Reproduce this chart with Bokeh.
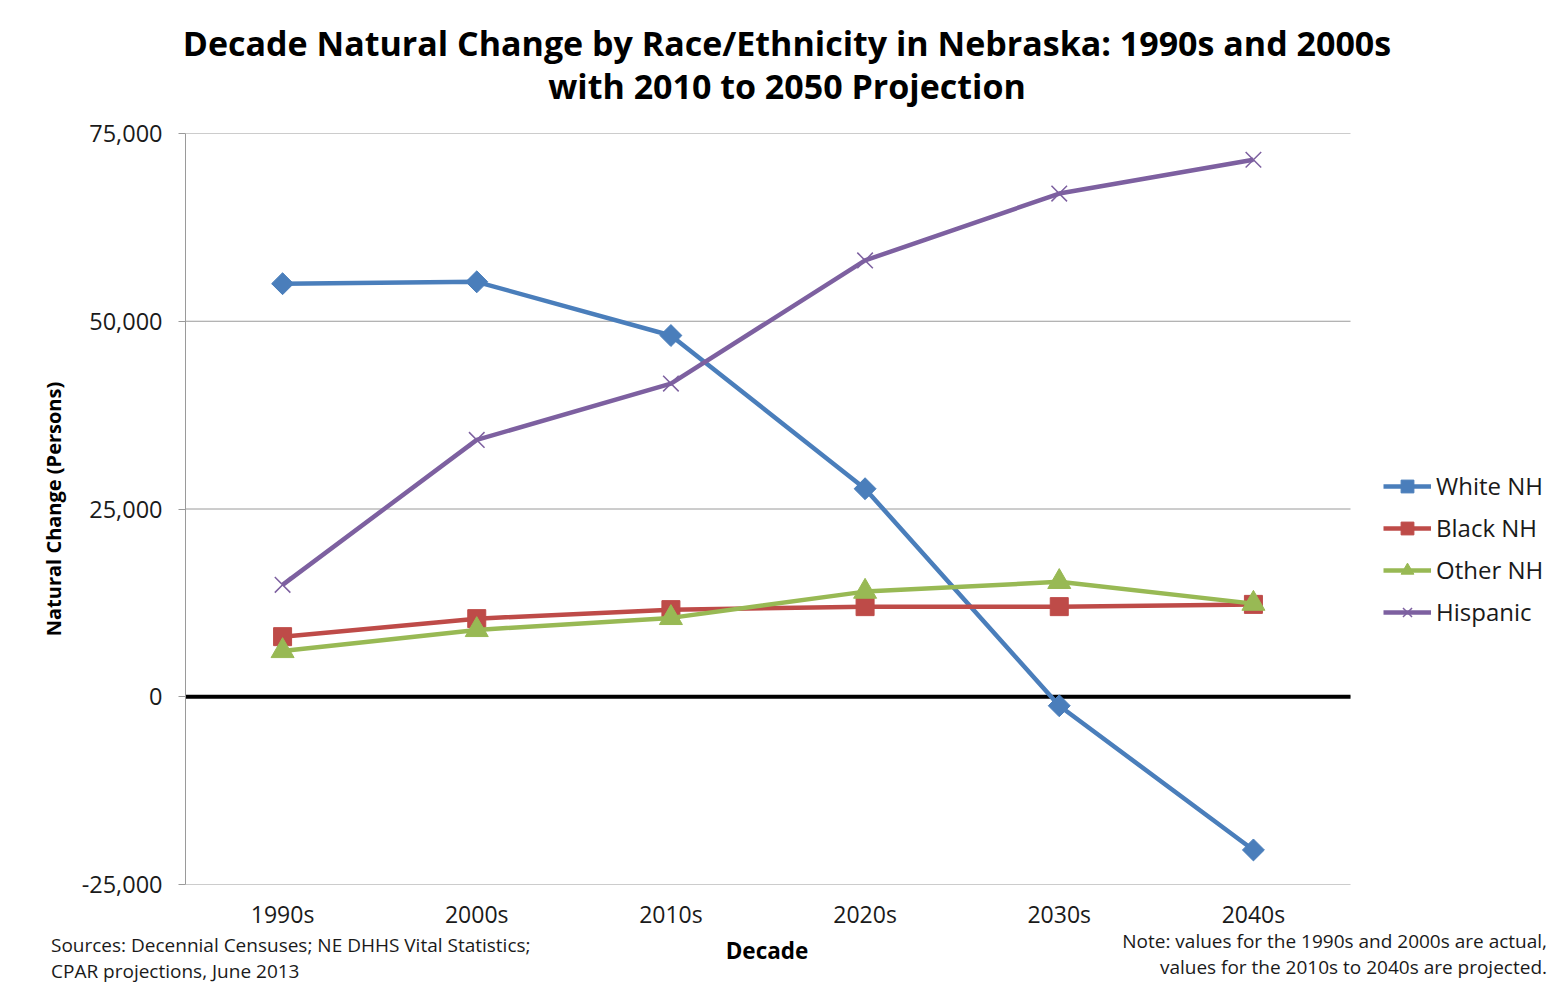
import math
from bokeh.plotting import figure
from bokeh.layouts import column
from bokeh.models import (Legend, LegendItem, NumeralTickFormatter, FixedTicker,
                          Range1d, Div)
from bokeh.embed import file_html
from bokeh.resources import INLINE

# ---- data ----
decades = ["1990s", "2000s", "2010s", "2020s", "2030s", "2040s"]
white_nh = [55000, 55250, 48100, 27700, -1200, -20400]
black_nh = [8000, 10400, 11600, 12000, 12000, 12300]
other_nh = [6100, 8900, 10500, 14000, 15300, 12400]
hispanic = [14900, 34200, 41700, 58100, 67000, 71500]
y_ticks = [-25000, 0, 25000, 50000, 75000]

series_names = ["White NH", "Black NH", "Other NH", "Hispanic"]
series_vals = [white_nh, black_nh, other_nh, hispanic]
colors = ["#4A7EBB", "#BE4B48", "#98B954", "#7D60A0"]

title_1 = "Decade Natural Change by Race/Ethnicity in Nebraska: 1990s and 2000s"
title_2 = "with 2010 to 2050 Projection"
x_label = "Decade"
y_label = "Natural Change (Persons)"
sources_1 = "Sources: Decennial Censuses; NE DHHS Vital Statistics;"
sources_2 = "CPAR projections, June 2013"
note_1 = "Note: values for the 1990s and 2000s are actual,"
note_2 = "values for the 2010s to 2040s are projected."

FONT = "Open Sans"
W = 1556
HEAD_H, MAIN_H, FOOT_H = 110, 826, 32
PLOT_L, PLOT_R = 185, 1350          # plot-area edges (px); legend lives to the right

n = len(decades)
xpos = [i + 0.5 for i in range(n)]
x_end = n * (W - PLOT_L) / (PLOT_R - PLOT_L)


def span(text, cy, left=None, right=None, center=None, size=19, bold=False, lh=1.0):
    if left is not None:
        pos = f"left:{left}px;"
    elif right is not None:
        pos = f"right:{right}px;"
    else:
        pos = f"left:{center}px;transform:translateX(-50%);"
    weight = "bold" if bold else "normal"
    color = "black" if bold else "#1a1a1a"
    top = cy - size * lh / 2
    return (f'<span style="position:absolute;display:block;{pos}top:{top:.1f}px;white-space:nowrap;'
            f'font-family:\'{FONT}\';font-size:{size}px;line-height:{lh};font-weight:{weight};'
            f'color:{color};">{text}</span>')


# ---- header (title) ----
head_html = (f'<div style="position:relative;width:{W}px;height:{HEAD_H}px;">'
             + span(title_1, 43, center=787, size=34, bold=True, lh=1.15)
             + span(title_2, 86, center=787, size=34, bold=True, lh=1.15)
             + '</div>')
head = Div(text=head_html, width=W, height=HEAD_H, margin=0)

# ---- main chart ----
p = figure(width=W, height=MAIN_H, x_range=Range1d(0, x_end), y_range=Range1d(-25000, 75000),
           title=None, output_backend="svg", toolbar_location=None,
           min_border_left=PLOT_L, min_border_right=0, min_border_top=23, min_border_bottom=52)
p.outline_line_color = None
p.background_fill_color = "white"
p.border_fill_color = "white"
p.grid.visible = False

# horizontal gridlines across the category span only
p.segment(x0=[0] * len(y_ticks), x1=[n] * len(y_ticks), y0=y_ticks, y1=y_ticks,
          line_color="#9A9A9A", line_width=1)

p.yaxis.ticker = FixedTicker(ticks=y_ticks)
p.yaxis.formatter = NumeralTickFormatter(format="0,0")
p.yaxis.axis_line_color = "#9A9A9A"
p.yaxis.major_tick_line_color = "#9A9A9A"
p.yaxis.major_tick_out = 7
p.yaxis.major_tick_in = 0
p.yaxis.minor_tick_line_color = None
p.yaxis.major_label_standoff = 16
p.yaxis.major_label_text_font = FONT
p.yaxis.major_label_text_font_size = "23.5px"
p.yaxis.major_label_text_color = "#1a1a1a"
p.yaxis.axis_label = y_label
p.yaxis.axis_label_text_font = FONT
p.yaxis.axis_label_text_font_size = "20px"
p.yaxis.axis_label_text_font_style = "bold"
p.yaxis.axis_label_text_color = "black"
p.yaxis.axis_label_standoff = 12

p.xaxis.ticker = FixedTicker(ticks=xpos)
p.xaxis.major_label_overrides = {x: d for x, d in zip(xpos, decades)}
p.xaxis.axis_line_color = None
p.xaxis.major_tick_line_color = None
p.xaxis.minor_tick_line_color = None
p.xaxis.major_tick_out = 0
p.xaxis.major_tick_in = 0
p.xaxis.major_label_standoff = 13
p.xaxis.major_label_text_font = FONT
p.xaxis.major_label_text_font_size = "23px"
p.xaxis.major_label_text_color = "#1a1a1a"

# zero line
p.segment(x0=[0], x1=[n], y0=[0], y1=[0], line_color="black", line_width=4)

markers = [("square", 15.5, math.pi / 4), ("square", 18, 0), ("triangle", 23, 0), ("x", 22, 0)]
items = []
for name, vals, col, (mk, sz, ang) in zip(series_names, series_vals, colors, markers):
    lr = p.line(xpos, vals, line_color=col, line_width=4.5, line_join="round")
    if mk == "x":
        sr = p.scatter(xpos, vals, marker=mk, size=sz, line_color=col, line_width=1.5)
    else:
        sr = p.scatter(xpos, vals, marker=mk, size=sz, angle=ang, fill_color=col,
                       line_color=col, line_width=1)
    items.append(LegendItem(label=name, renderers=[lr, sr]))

legend = Legend(items=items, location=(1383 - PLOT_L, 256), orientation="vertical",
                glyph_width=48, glyph_height=32, label_height=32, spacing=9,
                padding=0, margin=0, label_standoff=5,
                label_text_font=FONT, label_text_font_size="24px", label_text_color="#1a1a1a",
                border_line_color=None, background_fill_alpha=0)
p.add_layout(legend, "center")

# ---- footer (axis title, sources, note) ----
top0 = HEAD_H + MAIN_H
foot_html = (
    f'<div style="position:relative;width:{W}px;height:{FOOT_H}px;">'
    + span(x_label, 951 - top0, center=767, size=22.5, bold=True)
    + span(sources_1, 945 - top0, left=51)
    + span(sources_2, 971 - top0, left=51)
    + span(note_1, 941 - top0, right=W - 1547)
    + span(note_2, 967 - top0, right=W - 1547)
    + '</div>'
)
foot = Div(text=foot_html, width=W, height=FOOT_H, margin=0)

layout = column(head, p, foot, spacing=0)
open("out.html", "w").write(file_html(layout, INLINE))
